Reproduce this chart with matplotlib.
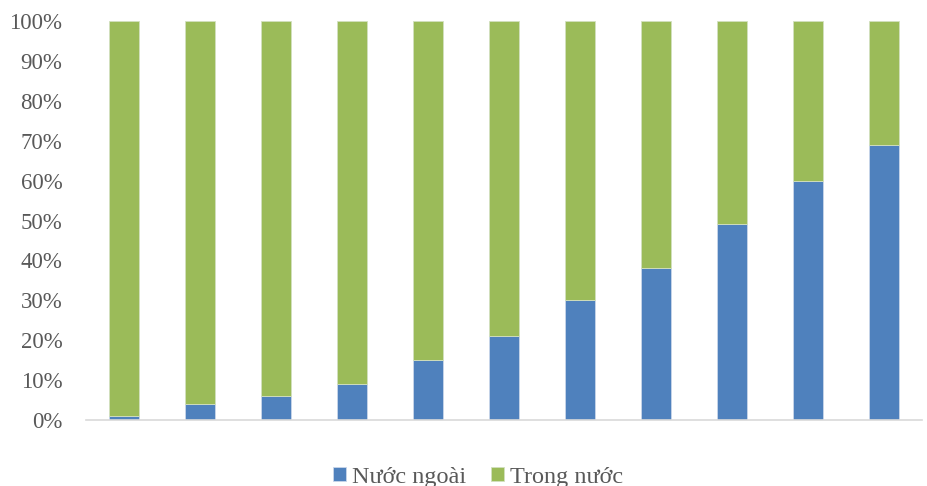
import matplotlib
matplotlib.use("Agg")
import matplotlib.pyplot as plt
import numpy as np

# share of each group, percent
nuoc_ngoai = [1, 4, 6, 9, 15, 21, 30, 38, 49, 60, 69]
trong_nuoc = [100 - v for v in nuoc_ngoai]
labels = ["Nước ngoài", "Trong nước"]
colors = ["#4f81bd", "#9bbb59"]

plt.rcParams['font.family'] = ['Liberation Serif', 'DejaVu Serif']

fig = plt.figure(figsize=(9.28, 4.86), dpi=100)
ax = fig.add_axes([86 / 928, 66 / 486, 836 / 928, 399 / 486])

x = np.arange(len(nuoc_ngoai))
ax.bar(x, nuoc_ngoai, width=0.4, color=colors[0], label=labels[0],
       edgecolor="#c9d6ea", linewidth=0.6)
ax.bar(x, trong_nuoc, width=0.4, bottom=nuoc_ngoai, color=colors[1],
       label=labels[1], edgecolor="#d3e0c0", linewidth=0.6)

ax.set_xlim(-0.5, len(x) - 0.5)
ax.set_ylim(0, 100)
ax.set_yticks(range(0, 101, 10))
ax.set_yticklabels([f"{v}%" for v in range(0, 101, 10)])
ax.set_xticks([])
ax.tick_params(axis='y', length=0, labelsize=16.5, labelcolor="#595959", pad=17)

for s in ["top", "right", "left"]:
    ax.spines[s].set_visible(False)
ax.spines["bottom"].set_color("#d9d9d9")
ax.spines["bottom"].set_linewidth(1.2)

fig.legend(loc="center", bbox_to_anchor=(0.515, 9 / 486), ncol=2, frameon=False,
           fontsize=17.5, labelcolor="#595959", handlelength=0.55, handleheight=0.55,
           handletextpad=0.25, columnspacing=1.0)

fig.savefig("out.png", dpi=100)
